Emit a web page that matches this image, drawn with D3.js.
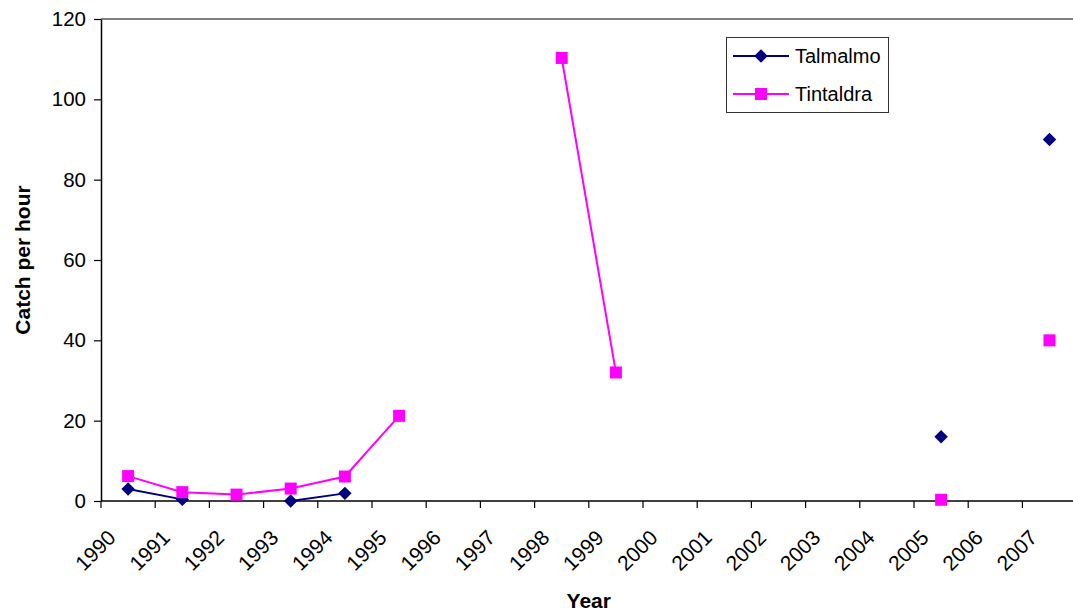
<!DOCTYPE html>
<html>
<head>
<meta charset="utf-8">
<script src="https://cdn.jsdelivr.net/npm/d3@7"></script>
<style>
  html, body { margin: 0; padding: 0; background: #fff; }
  svg { display: block; font-family: "Liberation Sans", Arial, sans-serif; }
</style>
</head>
<body>
<svg id="chart" width="1073" height="612"></svg>
<script>
// Sampling years (category axis)
const years = ["1990","1991","1992","1993","1994","1995","1996","1997","1998",
               "1999","2000","2001","2002","2003","2004","2005","2006","2007"];

// Catch per hour at each site; null = not sampled
const talmalmo  = [3, 0.4, null, 0, 1.9, null, null, null, null,
                   null, null, null, null, null, null, 16, null, 90];
const tintaldra = [6.2, 2.2, 1.6, 3.1, 6.1, 21.2, null, null, 110.3,
                   32, null, null, null, null, null, 0.3, null, 40];

const yTicks = [0, 20, 40, 60, 80, 100, 120];

const seriesNames = ["Talmalmo", "Tintaldra"];

(function () {
  const svg = d3.select("#chart");
  const plotLeft = 101, plotTop = 19, plotBottom = 501, bandW = 54.2;
  const plotRight = plotLeft + years.length * bandW;

  const x = d3.scaleBand().domain(years).range([plotLeft, plotRight]).padding(0);
  const y = d3.scaleLinear().domain([0, 120]).range([plotBottom, plotTop]);

  // Plot area top border
  svg.append("line")
    .attr("x1", plotLeft).attr("x2", plotRight)
    .attr("y1", plotTop).attr("y2", plotTop)
    .attr("stroke", "#808080").attr("stroke-width", 2);

  // Y axis
  const yAxis = svg.append("g")
    .attr("transform", `translate(${plotLeft},0)`)
    .call(d3.axisLeft(y).tickValues(yTicks).tickSize(7).tickSizeOuter(0).tickPadding(8));
  yAxis.select(".domain").attr("stroke", "#000").attr("stroke-width", 1.5);
  yAxis.selectAll(".tick line").attr("stroke", "#000").attr("stroke-width", 1.2);
  yAxis.selectAll(".tick text")
    .attr("font-size", 20.5).attr("fill", "#000")
    .attr("font-family", "Liberation Sans, Arial, sans-serif");

  // X axis: line, ticks on category boundaries, rotated labels
  const xg = svg.append("g");
  xg.append("line")
    .attr("x1", plotLeft).attr("x2", plotRight)
    .attr("y1", plotBottom).attr("y2", plotBottom)
    .attr("stroke", "#000").attr("stroke-width", 1.5);
  const boundaries = years.map(d => x(d)).concat([plotRight]);
  xg.selectAll("line.tk").data(boundaries).join("line")
    .attr("class", "tk")
    .attr("x1", d => d).attr("x2", d => d)
    .attr("y1", plotBottom).attr("y2", plotBottom + 7)
    .attr("stroke", "#000").attr("stroke-width", 1.2);
  xg.selectAll("text.lbl").data(years).join("text")
    .attr("class", "lbl")
    .attr("text-anchor", "end")
    .attr("font-size", 21)
    .attr("transform", d => `translate(${x(d) + x.bandwidth() / 2 - 11},${plotBottom + 38}) rotate(-45)`)
    .text(d => d);

  // Axis titles
  svg.append("text")
    .attr("x", (plotLeft + plotRight) / 2).attr("y", 608)
    .attr("text-anchor", "middle")
    .attr("font-size", 21).attr("font-weight", "bold")
    .text("Year");
  svg.append("text")
    .attr("transform", `translate(30,${(plotTop + plotBottom) / 2}) rotate(-90)`)
    .attr("text-anchor", "middle")
    .attr("font-size", 21).attr("font-weight", "bold")
    .text("Catch per hour");

  // Series
  const cx = i => x(years[i]) + x.bandwidth() / 2;
  const line = d3.line()
    .defined(d => d != null)
    .x((d, i) => cx(i))
    .y(d => y(d));

  const colors = ["#000080", "#FF00FF"];
  const data = [talmalmo, tintaldra];

  const diamond = d3.symbol().type(d3.symbolDiamond2).size(115);
  const square = d3.symbol().type(d3.symbolSquare).size(144);
  const shapes = [diamond, square];

  data.forEach((vals, s) => {
    svg.append("path")
      .attr("d", line(vals))
      .attr("fill", "none")
      .attr("stroke", colors[s])
      .attr("stroke-width", 2);
  });
  data.forEach((vals, s) => {
    svg.append("g").selectAll("path")
      .data(vals.map((v, i) => ({ v, i })).filter(d => d.v != null))
      .join("path")
      .attr("d", shapes[s]())
      .attr("transform", d => `translate(${cx(d.i)},${y(d.v)})`)
      .attr("fill", colors[s]);
  });

  // Legend
  const lg = svg.append("g");
  lg.append("rect")
    .attr("x", 726.5).attr("y", 37.5).attr("width", 162).attr("height", 75)
    .attr("fill", "#fff").attr("stroke", "#333").attr("stroke-width", 1);
  seriesNames.forEach((name, s) => {
    const ly = 56 + s * 38;
    lg.append("line")
      .attr("x1", 733).attr("x2", 789).attr("y1", ly).attr("y2", ly)
      .attr("stroke", colors[s]).attr("stroke-width", 2);
    lg.append("path")
      .attr("d", shapes[s]())
      .attr("transform", `translate(761,${ly})`)
      .attr("fill", colors[s]);
    lg.append("text")
      .attr("x", 795).attr("y", ly + 7)
      .attr("font-size", 20)
      .text(name);
  });
})();
</script>
</body>
</html>
